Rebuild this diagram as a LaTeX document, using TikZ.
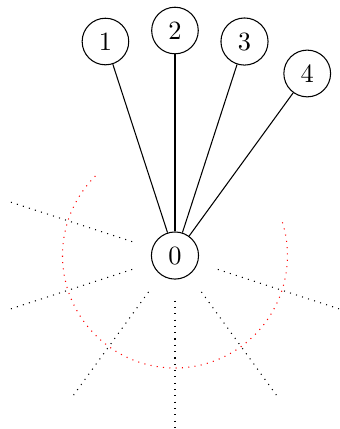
\documentclass[tikz,border=0pt]{standalone}
\usepackage{amsmath, amssymb}
\usepackage{xcolor}
\usepackage{tikz}

\begin{document}
\begin{tikzpicture}[vertex/.style={draw, circle}]
\useasboundingbox (-2.333, -2.313) rectangle (2.187, 3.407);

\node[vertex] (v0) at (0, 0) {0};
\node[vertex] (v1) at (108:3) {1};
\node[vertex] (v2) at (90:3) {2};
\node[vertex] (v3) at (72:3) {3};
\node[vertex] (v4) at (54:3) {4};

\draw (v0) -- (v1);
\draw (v0) -- (v2);
\draw (v0) -- (v3);
\draw (v0) -- (v4);

\draw[dotted] (162:0.6) -- (162:2.3);
\draw[dotted] (198:0.6) -- (198:2.3);
\draw[dotted] (234:0.6) -- (234:2.3);
\draw[dotted] (270:0.6) -- (270:2.3);
\draw[dotted] (306:0.6) -- (306:2.3);
\draw[dotted] (342:0.6) -- (342:2.3);

\draw[dotted, red] (135:1.5) arc (135:378:1.5);
\end{tikzpicture}
\end{document}
